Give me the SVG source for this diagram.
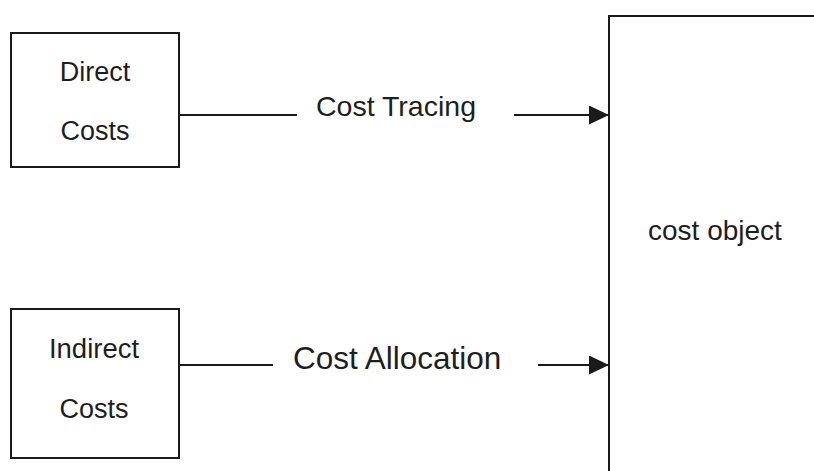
<svg xmlns="http://www.w3.org/2000/svg" width="814" height="471" viewBox="0 0 814 471">
  <style>
    .box { fill: none; stroke: #1a1a1a; stroke-width: 2; }
    .wire { fill: none; stroke: #1a1a1a; stroke-width: 2; }
    .lbl { font-family: "Liberation Sans", Arial, Helvetica, sans-serif; fill: #1e1e1e; }
    .mid { text-anchor: middle; }
  </style>
  <defs>
    <marker id="head" markerWidth="20" markerHeight="19" refX="20" refY="9.5" orient="auto" markerUnits="userSpaceOnUse">
      <path d="M0,0 L20,9.5 L0,19 Z" fill="#1a1a1a"/>
    </marker>
  </defs>
  <rect width="814" height="471" fill="#ffffff"/>

  <g id="direct-costs">
    <rect class="box" x="11" y="33" width="168" height="134"/>
    <text class="lbl mid" x="95" y="81" font-size="27">Direct</text>
    <text class="lbl mid" x="95" y="140" font-size="27">Costs</text>
  </g>

  <g id="indirect-costs">
    <rect class="box" x="11" y="309" width="168" height="149"/>
    <text class="lbl mid" x="94" y="358" font-size="27.5">Indirect</text>
    <text class="lbl mid" x="94" y="418" font-size="27">Costs</text>
  </g>

  <g id="cost-object">
    <path class="box" d="M609,480 L609,16 L830,16"/>
    <text class="lbl" x="648" y="240" font-size="28">cost object</text>
  </g>

  <g id="connectors">
    <line class="wire" x1="179" y1="115" x2="297" y2="115"/>
    <text class="lbl" x="316" y="116" font-size="28.5">Cost Tracing</text>
    <line class="wire" x1="514" y1="115" x2="609" y2="115" marker-end="url(#head)"/>

    <line class="wire" x1="179" y1="365" x2="273" y2="365"/>
    <text class="lbl" x="293" y="369" font-size="31.5">Cost Allocation</text>
    <line class="wire" x1="538" y1="365" x2="609" y2="365" marker-end="url(#head)"/>
  </g>
</svg>
